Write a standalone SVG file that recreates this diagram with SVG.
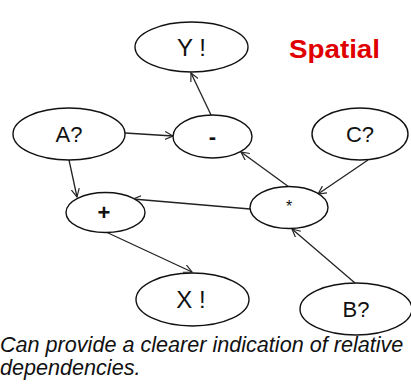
<svg xmlns="http://www.w3.org/2000/svg" width="411" height="385" viewBox="0 0 411 385">
<style>
.node ellipse{fill:#fff;stroke:#111;stroke-width:1.4}
.node text{font-family:"Liberation Sans",Arial,sans-serif;font-size:22px;fill:#111;text-anchor:middle}
.edge{stroke:#222;stroke-width:1.3;fill:none;marker-end:url(#arr)}
</style>
<defs>
<marker id="arr" viewBox="0 0 10 10" refX="9" refY="5" markerWidth="9" markerHeight="9" markerUnits="userSpaceOnUse" orient="auto">
<path d="M0,0.5 L9,5 L0,9.5" fill="none" stroke="#222" stroke-width="1.3"/>
</marker>
</defs>
<rect width="411" height="385" fill="#fff"/>
<g id="connectors">
<line class="edge" x1="212" y1="117" x2="191" y2="73"/>
<line class="edge" x1="125" y1="133" x2="173" y2="136"/>
<line class="edge" x1="69" y1="160" x2="77" y2="197"/>
<line class="edge" x1="368" y1="160" x2="318" y2="194"/>
<line class="edge" x1="289" y1="187" x2="241" y2="152"/>
<line class="edge" x1="250" y1="209" x2="133" y2="199"/>
<line class="edge" x1="106" y1="232" x2="192" y2="272"/>
<line class="edge" x1="355" y1="283" x2="292" y2="229"/>
</g>
<g id="nodeY" class="node"><ellipse cx="191.5" cy="47" rx="56.5" ry="25"/><text x="191.5" y="56" style="font-size:24px">Y !</text></g>
<g id="nodeA" class="node"><ellipse cx="69" cy="134" rx="56" ry="26"/><text x="69" y="142">A?</text></g>
<g id="nodeMinus" class="node"><ellipse cx="212.5" cy="136.5" rx="39.5" ry="21.5"/><text x="212.5" y="144" style="font-weight:bold">-</text></g>
<g id="nodeC" class="node"><ellipse cx="360" cy="134" rx="48" ry="26"/><text x="360" y="142">C?</text></g>
<g id="nodeStar" class="node"><ellipse cx="289" cy="207.5" rx="39" ry="21"/><text x="289" y="212" style="font-size:16px">*</text></g>
<g id="nodePlus" class="node"><ellipse cx="105.5" cy="212.5" rx="39.5" ry="20"/><text x="104" y="220" style="font-weight:bold">+</text></g>
<g id="nodeX" class="node"><ellipse cx="192.5" cy="299.5" rx="56.5" ry="26.5"/><text x="191" y="308" style="font-size:24px">X !</text></g>
<g id="nodeB" class="node"><ellipse cx="356" cy="309" rx="56" ry="26"/><text x="356" y="317">B?</text></g>
<text x="289" y="58" font-family="Liberation Sans,Arial,sans-serif" font-size="25" font-weight="bold" fill="#e00000" textLength="91" lengthAdjust="spacingAndGlyphs">Spatial</text>
<g font-family="Liberation Sans,Arial,sans-serif" font-size="21.6" font-style="italic" fill="#111">
<text x="0" y="352">Can provide a clearer indication of relative</text>
<text x="0" y="375">dependencies.</text>
</g>
</svg>
